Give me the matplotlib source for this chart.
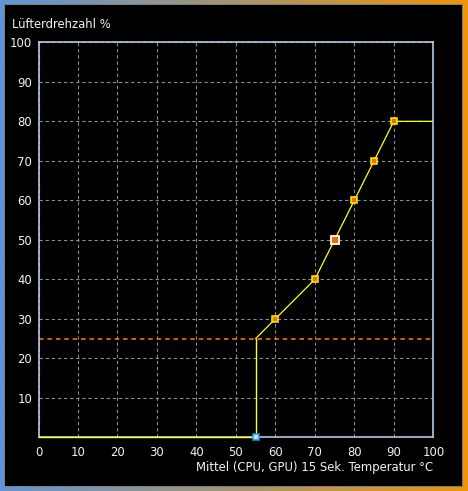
import matplotlib
matplotlib.use("Agg")
import matplotlib.pyplot as plt
import numpy as np
from matplotlib.patches import Rectangle

plt.rc("font", size=8.4, family="DejaVu Sans")

# fan curve (temperature in °C -> fan speed in %)
curve_temp = [0, 55, 55]
curve_fan = [0, 0, 25]
ramp_temp = [55, 60, 70, 75, 80, 85, 90, 100]
ramp_fan = [25, 30, 40, 50, 60, 70, 80, 80]
point_temp = [60, 70, 80, 85, 90]
point_fan = [30, 40, 60, 70, 80]
selected_temp = [75]
selected_fan = [50]
start_temp = [55]
start_fan = [0]
limit_fan = 25

x_ticks = list(range(0, 101, 10))
y_ticks = list(range(10, 101, 10))

W, H = 468, 491
fig = plt.figure(figsize=(W / 100, H / 100), dpi=100)

# window frame: blue -> orange gradient with black panel on top
bg = fig.add_axes([0, 0, 1, 1])
bg.set_axis_off()
grad = np.linspace(0, 1, 256)
c0 = np.array([95, 150, 215]) / 255
c1 = np.array([238, 148, 8]) / 255
img = (c0[None, :] * (1 - grad[:, None]) + c1[None, :] * grad[:, None])[None, :, :]
bg.imshow(img, aspect="auto", extent=[0, 1, 0, 1])
bg.add_patch(Rectangle((4 / W, 1 - 486 / H), (462 - 4) / W, (486 - 4) / H,
                       facecolor="black", edgecolor="#808080", linewidth=0.7))
bg.set_xlim(0, 1)
bg.set_ylim(0, 1)

ax = fig.add_axes([38.5 / W, 1 - 437.3 / H, (433.3 - 38.5) / W, (437.3 - 42.3) / H])
ax.set_facecolor("black")
ax.set_xlim(0, 100)
ax.set_ylim(0, 100)
ax.set_xticks(x_ticks)
ax.set_yticks(y_ticks)
ax.tick_params(length=0, colors="#f2f2f2")
ax.tick_params(axis="x", pad=6)
ax.tick_params(axis="y", pad=4.5)
for s in ax.spines.values():
    s.set_color("#b4c8e8")
    s.set_linewidth(1.2)
ax.grid(True, color="#8c8c8c", linestyle=(0, (3, 2.5)), linewidth=0.8)
ax.set_axisbelow(True)

ax.axhline(limit_fan, color="#ff8000", linestyle=(0, (3, 2.5)), linewidth=1.1, zorder=2)
ax.plot(curve_temp, curve_fan, color="#ffff20", linewidth=1.0, zorder=3, clip_on=False)
ax.plot(ramp_temp, ramp_fan, color="#ffff20", linewidth=0.9, zorder=3)
ax.plot(point_temp, point_fan, linestyle="none", marker="s", markersize=5,
        markerfacecolor="#e87000", markeredgecolor="#ffee00", markeredgewidth=1.1, zorder=4)
ax.plot(selected_temp, selected_fan, linestyle="none", marker="s", markersize=6.4,
        markerfacecolor="#e87000", markeredgecolor="white", markeredgewidth=1.3, zorder=4)
ax.plot(start_temp, start_fan, linestyle="none", marker="s", markersize=5,
        markerfacecolor="#b8e0f8", markeredgecolor="#2a90e0", markeredgewidth=1.1,
        zorder=5, clip_on=False)

fig.text(12 / W, 1 - 24 / H, "Lüfterdrehzahl %", color="#f2f2f2", va="center", ha="left")
fig.text(433 / W, 1 - 467 / H, "Mittel (CPU, GPU) 15 Sek. Temperatur °C",
         color="#f2f2f2", va="center", ha="right")

fig.savefig("out.png", dpi=100, facecolor="black")
